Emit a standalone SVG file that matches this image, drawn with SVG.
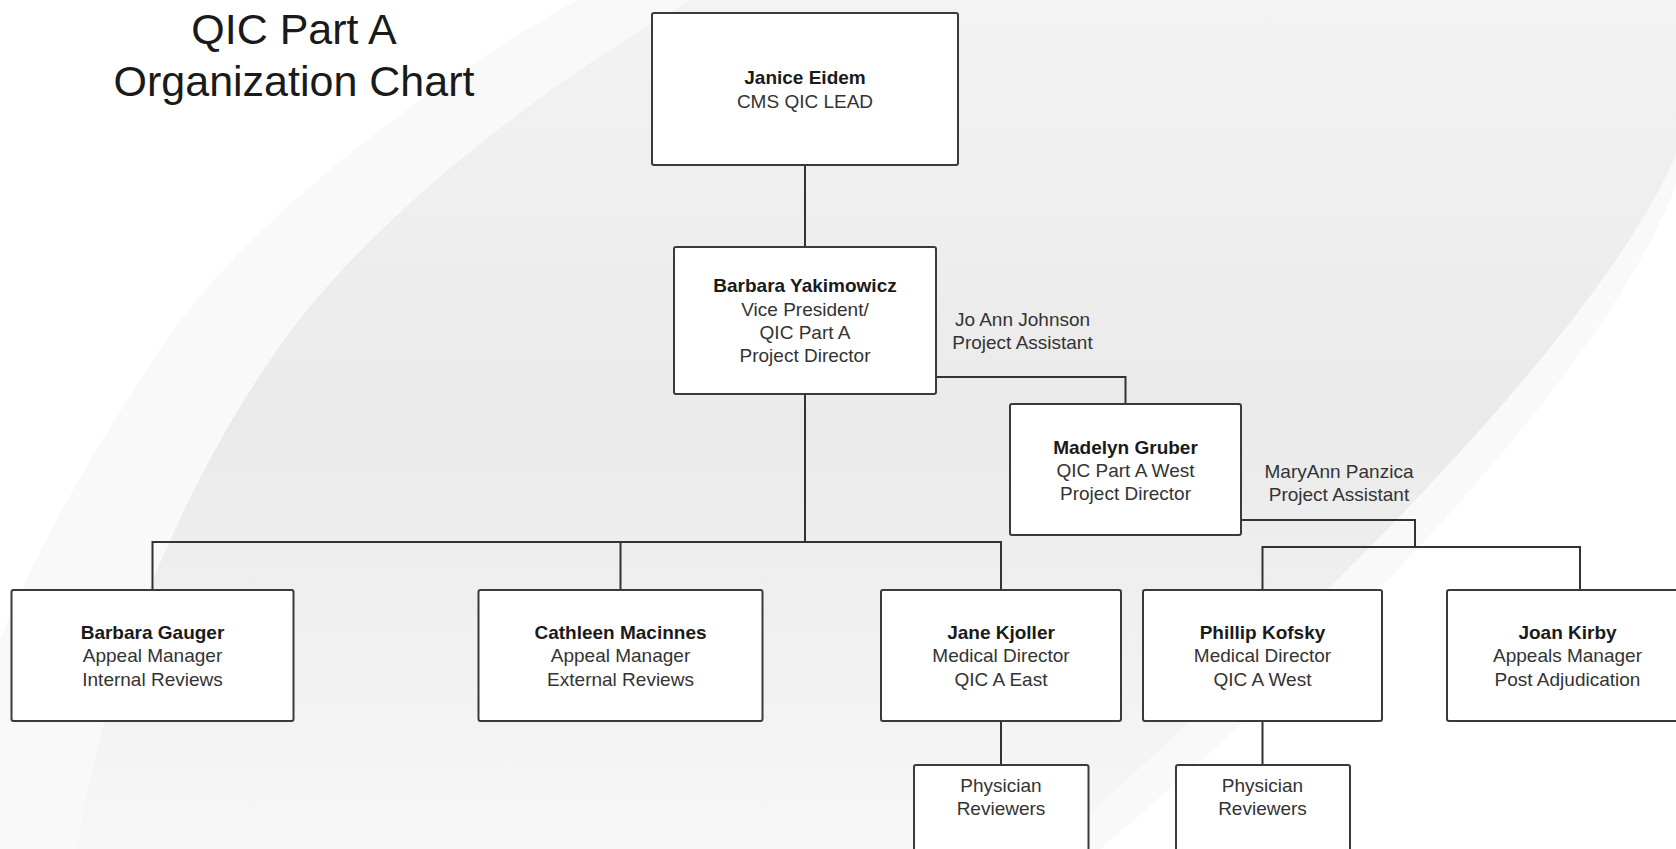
<svg xmlns="http://www.w3.org/2000/svg" width="1676" height="849" viewBox="0 0 1676 849">
<defs>
<linearGradient id="gray" x1="0" y1="0" x2="0" y2="1">
<stop offset="0" stop-color="#f3f3f3"/>
<stop offset="0.5" stop-color="#eaeaea"/>
<stop offset="1" stop-color="#f7f7f7"/>
</linearGradient>
<style>
.box{fill:#ffffff;stroke:#3a3a3a;stroke-width:2}
.ln{fill:none;stroke:#333333;stroke-width:2}
.t{font-family:"Liberation Sans",Arial,sans-serif;font-size:19px;fill:#333333;text-anchor:middle}
.b{font-weight:bold;fill:#1a1a1a}
.title{font-family:"Liberation Sans",Arial,sans-serif;font-size:43px;fill:#1a1a1a;text-anchor:middle}
</style>
</defs>
<g id="background">
<rect x="0" y="0" width="1676" height="849" fill="#ffffff"/>
<path d="M577,0 C400,100 230,240 160,350 C100,440 40,540 0,640 L0,849 L1100,849 C1370,620 1610,360 1676,185 L1676,0 Z" fill="#f9f9f9"/>
<path d="M690,0 C520,100 360,230 277,350 C200,460 110,640 77,849 L1050,849 C1330,600 1600,330 1676,155 L1676,0 Z" fill="url(#gray)"/>
</g>
<g id="title">
<text class="title" x="294" y="44">QIC Part A</text>
<text class="title" x="294" y="96">Organization Chart</text>
</g>
<g id="connectors">
<path class="ln" d="M805,165 V247"/>
<path class="ln" d="M805,394 V542 M152.5,590 V542 H1001 V590 M620.5,542 V590"/>
<path class="ln" d="M936,377 H1125.5 V404"/>
<path class="ln" d="M1241,520 H1415 V547 M1262.5,590 V547 H1580 V590"/>
<path class="ln" d="M1001,721 V765 M1262.5,721 V765"/>
</g>
<g id="node-janice">
<rect class="box" x="652" y="13" width="306" height="152" rx="2"/>
<text class="t b" x="805" y="84">Janice Eidem</text>
<text class="t" x="805" y="108">CMS QIC LEAD</text>
</g>
<g id="node-yakimowicz">
<rect class="box" x="674" y="247" width="262" height="147" rx="2"/>
<text class="t b" x="805" y="292">Barbara Yakimowicz</text>
<text class="t" x="805" y="315.5">Vice President/</text>
<text class="t" x="805" y="339">QIC Part A</text>
<text class="t" x="805" y="362">Project Director</text>
</g>
<g id="label-johnson">
<text class="t" x="1022.5" y="325.5">Jo Ann Johnson</text>
<text class="t" x="1022.5" y="348.5">Project Assistant</text>
</g>
<g id="node-gruber">
<rect class="box" x="1010" y="404" width="231" height="131" rx="2"/>
<text class="t b" x="1125.5" y="453.5">Madelyn Gruber</text>
<text class="t" x="1125.5" y="477">QIC Part A West</text>
<text class="t" x="1125.5" y="500">Project Director</text>
</g>
<g id="label-panzica">
<text class="t" x="1339" y="478">MaryAnn Panzica</text>
<text class="t" x="1339" y="501">Project Assistant</text>
</g>
<g id="node-gauger">
<rect class="box" x="11.5" y="590" width="282" height="131" rx="2"/>
<text class="t b" x="152.5" y="639">Barbara Gauger</text>
<text class="t" x="152.5" y="662">Appeal Manager</text>
<text class="t" x="152.5" y="685.5">Internal Reviews</text>
</g>
<g id="node-macinnes">
<rect class="box" x="478.5" y="590" width="284" height="131" rx="2"/>
<text class="t b" x="620.5" y="639">Cathleen Macinnes</text>
<text class="t" x="620.5" y="662">Appeal Manager</text>
<text class="t" x="620.5" y="685.5">External Reviews</text>
</g>
<g id="node-kjoller">
<rect class="box" x="881" y="590" width="240" height="131" rx="2"/>
<text class="t b" x="1001" y="639">Jane Kjoller</text>
<text class="t" x="1001" y="662">Medical Director</text>
<text class="t" x="1001" y="685.5">QIC A East</text>
</g>
<g id="node-kofsky">
<rect class="box" x="1143" y="590" width="239" height="131" rx="2"/>
<text class="t b" x="1262.5" y="639">Phillip Kofsky</text>
<text class="t" x="1262.5" y="662">Medical Director</text>
<text class="t" x="1262.5" y="685.5">QIC A West</text>
</g>
<g id="node-kirby">
<rect class="box" x="1447" y="590" width="241" height="131" rx="2"/>
<text class="t b" x="1567.5" y="639">Joan Kirby</text>
<text class="t" x="1567.5" y="662">Appeals Manager</text>
<text class="t" x="1567.5" y="685.5">Post Adjudication</text>
</g>
<g id="node-physicians-east">
<rect class="box" x="914" y="765" width="174.5" height="120" rx="2"/>
<text class="t" x="1001" y="792">Physician</text>
<text class="t" x="1001" y="814.5">Reviewers</text>
</g>
<g id="node-physicians-west">
<rect class="box" x="1176" y="765" width="174" height="120" rx="2"/>
<text class="t" x="1262.5" y="792">Physician</text>
<text class="t" x="1262.5" y="814.5">Reviewers</text>
</g>
</svg>
